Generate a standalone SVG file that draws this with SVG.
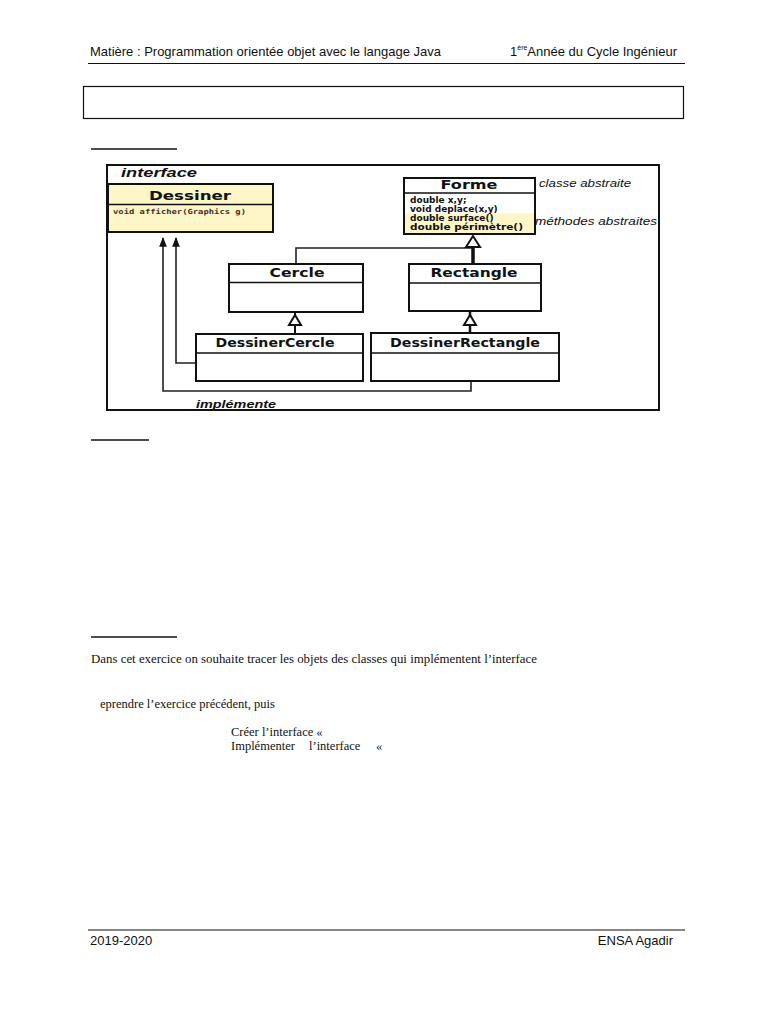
<svg xmlns="http://www.w3.org/2000/svg" width="768" height="1024" viewBox="0 0 768 1024">
<style>
.hdr{font-family:"Liberation Sans",Arial,sans-serif;font-size:13px;fill:#111}
.body{font-family:"Liberation Serif","Times New Roman",serif;font-size:12.5px;fill:#111}
.ttl{font-family:"DejaVu Sans",Verdana,sans-serif;font-weight:bold;font-size:12px;fill:#111}
.attr{font-family:"DejaVu Sans",Verdana,sans-serif;font-weight:bold;font-size:9px;fill:#111}
.note{font-family:"Liberation Sans",Arial,sans-serif;font-style:italic;font-size:10px;fill:#111}
.box{fill:#fff;stroke:#111;stroke-width:2}
.sep{stroke:#111;stroke-width:1.5}
.con{fill:none;stroke:#222;stroke-width:1.6}
.tri{fill:#fff;stroke:#111;stroke-width:2}
</style>
<defs>
<marker id="arr" viewBox="0 0 10 10" refX="9" refY="5" markerWidth="6" markerHeight="6" orient="auto">
<path d="M0,1 L10,5 L0,9 z" fill="#111"/>
</marker>
</defs>
<rect width="768" height="1024" fill="#fff"/>

<g id="header">
<text class="hdr" x="90" y="56" textLength="351" lengthAdjust="spacingAndGlyphs">Matière : Programmation orientée objet avec le langage Java</text>
<text class="hdr" x="510" y="56">1<tspan font-size="7" dy="-6">ère</tspan><tspan dy="6">Année du Cycle Ingénieur</tspan></text>
<line x1="88" y1="63.5" x2="685" y2="63.5" stroke="#111" stroke-width="1.2"/>
<rect x="83.5" y="86.5" width="600" height="32" fill="none" stroke="#111" stroke-width="1.2"/>
<line x1="91" y1="149" x2="177" y2="149" stroke="#111" stroke-width="1.5"/>
</g>

<g id="frame">
<rect x="107" y="165" width="552" height="245" fill="none" stroke="#111" stroke-width="2"/>
<text x="121" y="177" font-family="Liberation Sans,Arial,sans-serif" font-weight="bold" font-style="italic" font-size="13" textLength="76" lengthAdjust="spacingAndGlyphs" fill="#111">interface</text>
<text x="539" y="187" class="note" textLength="92" lengthAdjust="spacingAndGlyphs">classe abstraite</text>
<text x="535" y="225" class="note" textLength="122" lengthAdjust="spacingAndGlyphs">méthodes abstraites</text>
<text x="196" y="408" font-family="Liberation Sans,Arial,sans-serif" font-weight="bold" font-style="italic" font-size="10.5" textLength="80" lengthAdjust="spacingAndGlyphs" fill="#111">implémente</text>
</g>

<g id="connectors">
<polyline class="con" points="196,363 176,363 176,238" marker-end="url(#arr)" stroke="#666"/>
<polyline class="con" points="471,381 471,391 163,391 163,238" marker-end="url(#arr)"/>
<polyline class="con" points="296,264 296,248 473,248"/>
<line x1="473" y1="245" x2="473" y2="264" stroke="#111" stroke-width="3.5"/>
<polygon class="tri" points="473,236 466,247 480,247"/>
<line x1="295" y1="312" x2="295" y2="334" stroke="#111" stroke-width="2"/>
<polygon class="tri" points="295,315 289,325 301,325"/>
<line x1="470" y1="312" x2="470" y2="334" stroke="#111" stroke-width="2.5"/>
<polygon class="tri" points="470,315 464,325 476,325"/>
</g>

<g id="Dessiner">
<rect x="108" y="184" width="165" height="48" fill="#fcf6c8" stroke="#111" stroke-width="2"/>
<line class="sep" x1="108" y1="204.5" x2="273" y2="204.5"/>
<text class="ttl" x="190" y="199.5" text-anchor="middle" font-size="14" textLength="82" lengthAdjust="spacingAndGlyphs">Dessiner</text>
<text x="113" y="213.5" font-family="DejaVu Sans Mono,monospace" font-weight="bold" font-size="7" fill="#4a2a2a" textLength="133" lengthAdjust="spacingAndGlyphs">void afficher(Graphics g)</text>
</g>

<g id="Forme">
<rect x="404" y="178" width="131" height="56" fill="#fff" stroke="#111" stroke-width="2"/>
<rect x="405" y="213.5" width="129" height="19.5" fill="#fcf6c8"/>
<line class="sep" x1="404" y1="193" x2="535" y2="193"/>
<text class="ttl" x="469" y="189" text-anchor="middle" textLength="57" lengthAdjust="spacingAndGlyphs">Forme</text>
<text class="attr" x="410" y="203">double x,y;</text>
<text class="attr" x="410" y="212">void deplace(x,y)</text>
<text class="attr" x="410" y="221">double surface()</text>
<text class="attr" x="410" y="230" textLength="113" lengthAdjust="spacingAndGlyphs">double périmètre()</text>
</g>

<g id="Cercle">
<rect class="box" x="229" y="264" width="134" height="48"/>
<line class="sep" x1="229" y1="282.5" x2="363" y2="282.5"/>
<text class="ttl" x="297" y="277" text-anchor="middle" textLength="55" lengthAdjust="spacingAndGlyphs">Cercle</text>
</g>

<g id="Rectangle">
<rect class="box" x="409" y="264" width="132" height="47"/>
<line class="sep" x1="409" y1="283" x2="541" y2="283"/>
<text class="ttl" x="474" y="277" text-anchor="middle" textLength="87" lengthAdjust="spacingAndGlyphs">Rectangle</text>
</g>

<g id="DessinerCercle">
<rect class="box" x="196" y="334" width="167" height="47"/>
<line class="sep" x1="196" y1="353" x2="363" y2="353"/>
<text class="ttl" x="275" y="347" text-anchor="middle" textLength="119" lengthAdjust="spacingAndGlyphs">DessinerCercle</text>
</g>

<g id="DessinerRectangle">
<rect class="box" x="371" y="333" width="188" height="48"/>
<line class="sep" x1="371" y1="353" x2="559" y2="353"/>
<text class="ttl" x="465" y="347" text-anchor="middle" textLength="150" lengthAdjust="spacingAndGlyphs">DessinerRectangle</text>
</g>

<g id="text">
<line x1="91" y1="440" x2="149" y2="440" stroke="#111" stroke-width="1.5"/>
<line x1="91" y1="637" x2="177" y2="637" stroke="#111" stroke-width="1.5"/>
<text class="body" x="91" y="663" textLength="446" lengthAdjust="spacingAndGlyphs">Dans cet exercice on souhaite tracer les objets des classes qui implémentent l’interface</text>
<text class="body" x="100" y="708">eprendre l’exercice précédent, puis</text>
<text class="body" x="231" y="736">Créer l’interface «</text>
<text class="body" x="231" y="750">Implémenter</text>
<text class="body" x="309" y="750">l’interface</text>
<text class="body" x="376" y="750">«</text>
</g>

<g id="footer">
<line x1="88" y1="930" x2="685" y2="930" stroke="#111" stroke-width="1.2"/>
<text class="hdr" x="90" y="945">2019-2020</text>
<text class="hdr" x="673" y="945" text-anchor="end">ENSA Agadir</text>
</g>
</svg>
